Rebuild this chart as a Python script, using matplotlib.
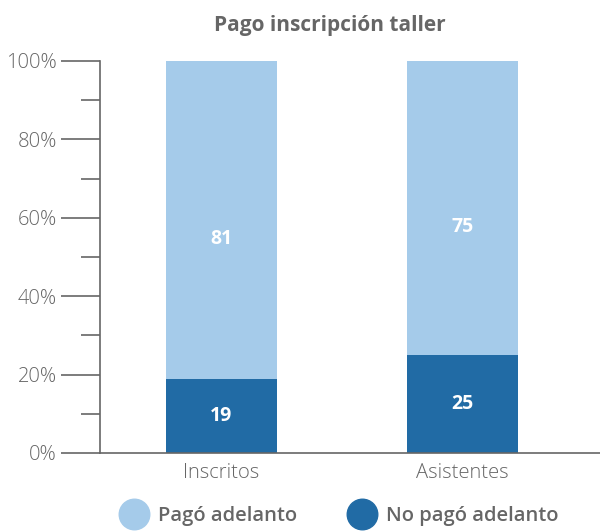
import matplotlib.pyplot as plt
from matplotlib.lines import Line2D
from matplotlib.ticker import MultipleLocator

categories = ["Inscritos", "Asistentes"]
no_pago = [19, 25]
pago = [81, 75]
series_names = ["Pagó adelanto", "No pagó adelanto"]

light = "#a5cbea"
dark = "#216ba5"
gray = "#666666"

plt.rcParams["font.family"] = ["Open Sans", "DejaVu Sans"]

fig = plt.figure(figsize=(6, 5.31), dpi=100)
ax = fig.add_axes([100 / 600, 78 / 531, 500 / 600, 392 / 531])

x = list(range(len(categories)))
ax.bar(x, no_pago, width=0.46, color=dark)
ax.bar(x, pago, bottom=no_pago, width=0.46, color=light)

# etiquetas dentro de las barras
for i in x:
    ax.text(i, no_pago[i] / 2, str(no_pago[i]), ha="center", va="center",
            color="white", fontsize=14, fontweight="bold")
    ax.annotate(str(pago[i]), (i, no_pago[i] + pago[i] / 2), xytext=(0, -14),
                textcoords="offset points", ha="center", va="center",
                color="white", fontsize=14, fontweight="bold")

ax.set_xlim(-0.504, 1.571)
ax.set_ylim(0, 100)

for s in ["top", "right"]:
    ax.spines[s].set_visible(False)
ax.spines["left"].set_color(gray)
ax.spines["bottom"].set_color(gray)
ax.spines["left"].set_linewidth(1.2)
ax.spines["bottom"].set_linewidth(1.2)

ax.yaxis.set_minor_locator(MultipleLocator(10))
ax.set_yticks(range(0, 101, 20))
ax.set_yticklabels([f"{v}%" for v in range(0, 101, 20)])
ax.tick_params(axis="y", which="major", length=28, width=1.2, color=gray,
               labelcolor=gray, labelsize=14.5, pad=3)
ax.tick_params(axis="y", which="minor", length=14, width=1.2, color=gray)
for t in ax.get_yticklabels():
    t.set_fontweight("light")

ax.set_xticks(x)
ax.set_xticklabels(categories)
ax.tick_params(axis="x", length=0, labelcolor=gray, labelsize=14.5, pad=7)
for t in ax.get_xticklabels():
    t.set_fontweight("light")

fig.text(330 / 600, 1 - 25 / 531, "Pago inscripción taller", ha="center", va="center",
         fontsize=15, fontweight="bold", color=gray)

handles = [
    Line2D([], [], marker="o", linestyle="", markersize=22, color=light),
    Line2D([], [], marker="o", linestyle="", markersize=22, color=dark),
]
leg = fig.legend(handles, series_names, loc="center", ncol=2,
                 bbox_to_anchor=(340 / 600, 1 - 516 / 531), frameon=False,
                 fontsize=14.5, handletextpad=0.6, columnspacing=2.6, handlelength=1.2)
for t in leg.get_texts():
    t.set_color(gray)
    t.set_fontweight("semibold")

fig.savefig("out.png", dpi=100)
